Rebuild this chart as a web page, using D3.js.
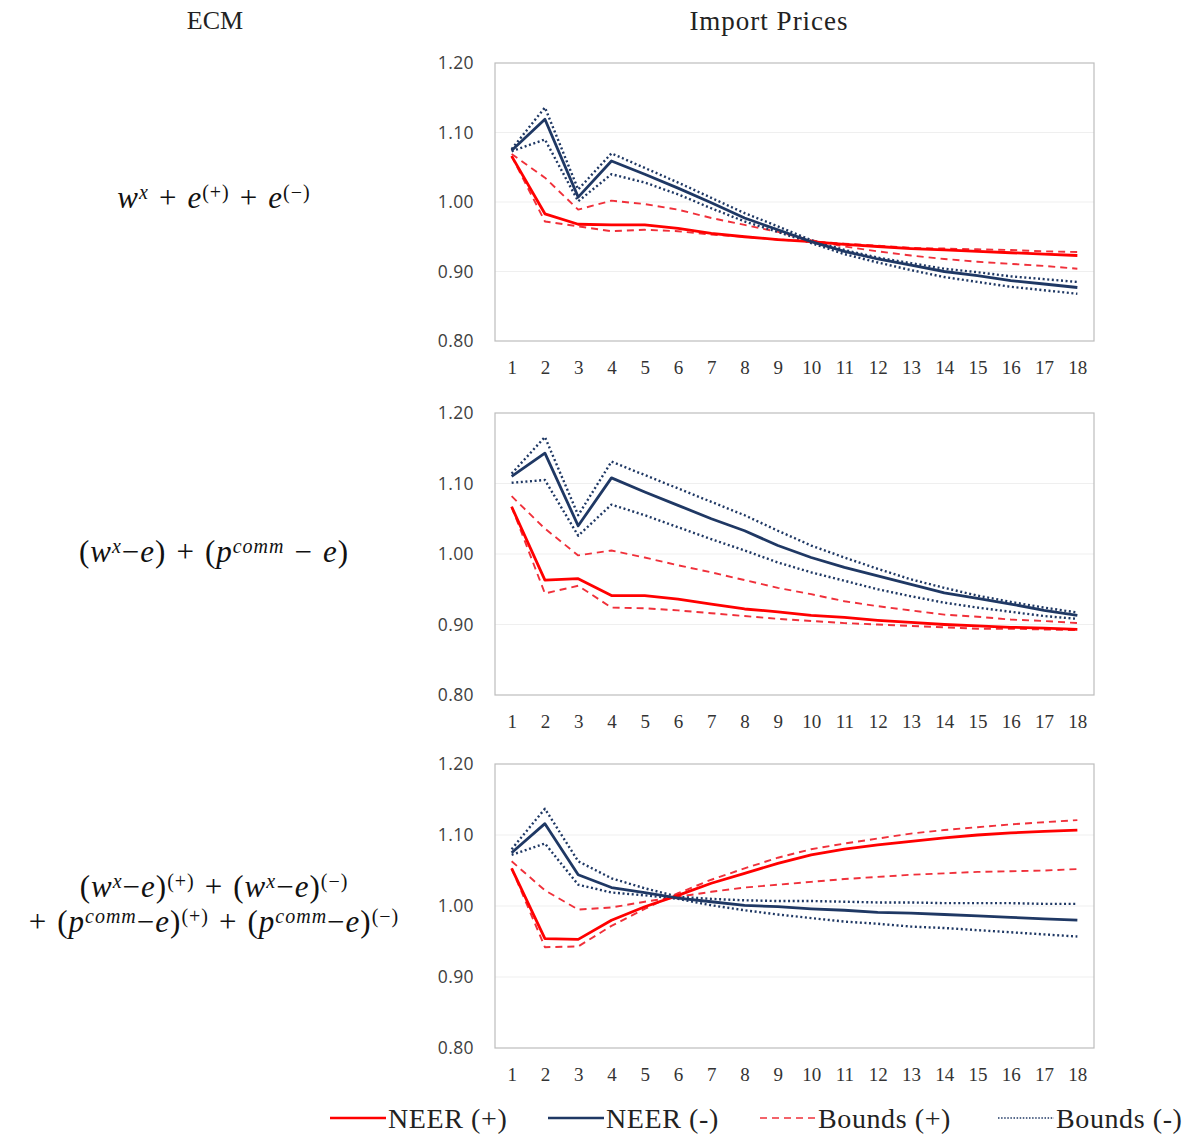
<!DOCTYPE html>
<html>
<head>
<meta charset="utf-8">
<script src="https://cdn.jsdelivr.net/npm/d3@7"></script>
<style>
  html, body { margin: 0; padding: 0; background: #fff; }
  svg { display: block; }
</style>
</head>
<body>
<svg id="chart" width="1196" height="1137"></svg>
<script>
// Horizons (periods after the shock)
const horizons = d3.range(1, 19);
const yTicks = [0.80, 0.90, 1.00, 1.10, 1.20];

// Panel 1: w^x + e(+) + e(-)
const p1NeerPos   = [1.066,0.983,0.968,0.967,0.967,0.962,0.955,0.950,0.946,0.943,0.939,0.936,0.933,0.931,0.929,0.927,0.925,0.923];
const p1BoundPosA = [1.069,1.035,0.989,1.002,0.997,0.989,0.977,0.967,0.957,0.945,0.936,0.929,0.923,0.918,0.914,0.911,0.908,0.904];
const p1BoundPosB = [1.066,0.972,0.965,0.958,0.960,0.958,0.953,0.950,0.946,0.943,0.940,0.937,0.934,0.933,0.932,0.931,0.929,0.928];
const p1NeerNeg   = [1.074,1.119,1.007,1.059,1.040,1.020,0.999,0.977,0.960,0.943,0.929,0.918,0.909,0.900,0.894,0.887,0.882,0.877];
const p1BoundNegA = [1.076,1.136,1.018,1.070,1.049,1.028,1.006,0.984,0.965,0.945,0.931,0.920,0.912,0.904,0.899,0.893,0.889,0.885];
const p1BoundNegB = [1.073,1.090,1.001,1.040,1.028,1.011,0.991,0.972,0.957,0.941,0.925,0.913,0.902,0.892,0.885,0.878,0.873,0.868];

// Panel 2: (w^x - e) + (p^comm - e)
const p2NeerPos   = [1.067,0.963,0.965,0.941,0.941,0.936,0.929,0.922,0.918,0.913,0.910,0.906,0.903,0.900,0.898,0.896,0.895,0.893];
const p2BoundPosA = [1.082,1.036,0.998,1.005,0.995,0.984,0.974,0.963,0.952,0.943,0.933,0.926,0.920,0.914,0.911,0.907,0.905,0.902];
const p2BoundPosB = [1.067,0.944,0.955,0.924,0.923,0.920,0.916,0.912,0.908,0.905,0.902,0.900,0.898,0.896,0.894,0.894,0.893,0.892];
const p2NeerNeg   = [1.110,1.143,1.040,1.108,1.088,1.069,1.050,1.033,1.012,0.995,0.981,0.969,0.957,0.945,0.937,0.929,0.920,0.913];
const p2BoundNegA = [1.114,1.166,1.055,1.131,1.112,1.093,1.074,1.055,1.033,1.012,0.995,0.979,0.964,0.952,0.941,0.932,0.924,0.917];
const p2BoundNegB = [1.101,1.105,1.026,1.070,1.055,1.038,1.021,1.005,0.988,0.974,0.962,0.950,0.940,0.931,0.924,0.918,0.912,0.908];

// Panel 3: asymmetric cost-push terms
const p3NeerPos   = [1.053,0.954,0.953,0.980,0.999,1.015,1.032,1.046,1.060,1.072,1.080,1.086,1.091,1.096,1.100,1.103,1.105,1.107];
const p3BoundPosA = [1.053,0.942,0.943,0.972,0.996,1.018,1.037,1.053,1.068,1.080,1.088,1.095,1.102,1.107,1.111,1.115,1.118,1.121];
const p3BoundPosB = [1.063,1.022,0.995,0.998,1.006,1.013,1.020,1.026,1.030,1.034,1.038,1.041,1.044,1.046,1.048,1.049,1.050,1.052];
const p3NeerNeg   = [1.075,1.116,1.044,1.026,1.019,1.011,1.006,1.001,0.999,0.996,0.994,0.991,0.990,0.988,0.986,0.984,0.982,0.980];
const p3BoundNegA = [1.080,1.137,1.063,1.039,1.025,1.013,1.010,1.008,1.007,1.007,1.006,1.005,1.005,1.004,1.004,1.004,1.003,1.003];
const p3BoundNegB = [1.072,1.088,1.030,1.019,1.015,1.010,1.001,0.994,0.988,0.983,0.978,0.975,0.971,0.969,0.966,0.963,0.960,0.957];

// Row labels (specification of each ECM), as runs of text:
// i = italic, s = superscript, op = binary operator with extra spacing
const rowLabels = [
  [[
    {t:"w", i:1},{t:"x", i:1, s:1},{t:"+", op:1},{t:"e", i:1},{t:"(+)", s:1},{t:"+", op:1},{t:"e", i:1},{t:"(\u2212)", s:1}
  ]],
  [[
    {t:"("},{t:"w", i:1},{t:"x", i:1, s:1},{t:"\u2212"},{t:"e", i:1},{t:")"},{t:"+", op:1},{t:"("},{t:"p", i:1},{t:"comm", i:1, s:1},{t:"\u2212", op:1},{t:"e", i:1},{t:")"}
  ]],
  [[
    {t:"("},{t:"w", i:1},{t:"x", i:1, s:1},{t:"\u2212"},{t:"e", i:1},{t:")"},{t:"(+)", s:1},{t:"+", op:1},{t:"("},{t:"w", i:1},{t:"x", i:1, s:1},{t:"\u2212"},{t:"e", i:1},{t:")"},{t:"(\u2212)", s:1}
  ],[
    {t:"+", op:1},{t:"("},{t:"p", i:1},{t:"comm", i:1, s:1},{t:"\u2212"},{t:"e", i:1},{t:")"},{t:"(+)", s:1},{t:"+", op:1},{t:"("},{t:"p", i:1},{t:"comm", i:1, s:1},{t:"\u2212"},{t:"e", i:1},{t:")"},{t:"(\u2212)", s:1}
  ]]
];

const legendItems = [
  {key:"neerPos",  label:"NEER (+)"},
  {key:"neerNeg",  label:"NEER (-)"},
  {key:"boundPos", label:"Bounds (+)"},
  {key:"boundNeg", label:"Bounds (-)"}
];

const RED = "#ff0000", NAVY = "#1f3864";
const styles = {
  neerPos:  {stroke: RED,  width: 2.8, dash: null},
  neerNeg:  {stroke: NAVY, width: 2.8, dash: null},
  boundPos: {stroke: "#f0303a", width: 1.9, dash: "7,5"},
  boundNeg: {stroke: NAVY, width: 2.4, dash: "2,2.6"}
};

const panels = [
  {top: 63,  bottom: 341,  labelY: 200,   series: {neerPos:[p1NeerPos], neerNeg:[p1NeerNeg], boundPos:[p1BoundPosA,p1BoundPosB], boundNeg:[p1BoundNegA,p1BoundNegB]}},
  {top: 413, bottom: 695,  labelY: 554,   series: {neerPos:[p2NeerPos], neerNeg:[p2NeerNeg], boundPos:[p2BoundPosA,p2BoundPosB], boundNeg:[p2BoundNegA,p2BoundNegB]}},
  {top: 764, bottom: 1048, labelY: 906.5, series: {neerPos:[p3NeerPos], neerNeg:[p3NeerNeg], boundPos:[p3BoundPosA,p3BoundPosB], boundNeg:[p3BoundNegA,p3BoundNegB]}}
];

const svg = d3.select("#chart");
const left = 495, right = 1094;
const SERIF = "Liberation Serif, DejaVu Serif, serif";

const x = d3.scalePoint().domain(horizons).range([left, right]).padding(0.5);

// Column headers
svg.append("text").attr("x", 215).attr("y", 29).attr("text-anchor", "middle")
  .attr("font-family", SERIF).attr("font-size", 26)
  .attr("fill", "#222").text("ECM");
svg.append("text").attr("x", 769).attr("y", 30).attr("text-anchor", "middle")
  .attr("font-family", SERIF).attr("font-size", 27).attr("letter-spacing", 1)
  .attr("fill", "#222").text("Import Prices");

const drawOrder = ["boundPos", "boundNeg", "neerPos", "neerNeg"];

panels.forEach((p, pi) => {
  const y = d3.scaleLinear().domain([0.80, 1.20]).range([p.bottom, p.top]);
  const g = svg.append("g");

  // gridlines
  g.selectAll("line.grid").data(yTicks.slice(1, -1)).join("line")
    .attr("x1", left).attr("x2", right)
    .attr("y1", d => y(d)).attr("y2", d => y(d))
    .attr("stroke", "#efefef").attr("stroke-width", 1);

  // frame
  g.append("rect").attr("x", left).attr("y", p.top)
    .attr("width", right - left).attr("height", p.bottom - p.top)
    .attr("fill", "none").attr("stroke", "#bdbdbd").attr("stroke-width", 1.2);

  // y axis
  const ya = g.append("g").attr("transform", `translate(${left - 21},0)`)
    .call(d3.axisLeft(y).tickValues(yTicks).tickFormat(d3.format(".2f")).tickSize(0).tickPadding(0));
  ya.select(".domain").remove();
  ya.selectAll("text").attr("font-family", "Open Sans, Liberation Sans, sans-serif")
    .attr("font-size", 17.5).attr("letter-spacing", 0.4).attr("fill", "#404040").attr("dy", "0.34em");

  // x axis
  const xa = g.append("g").attr("transform", `translate(0,${p.bottom + 26})`)
    .call(d3.axisBottom(x).tickSize(0).tickPadding(0));
  xa.select(".domain").remove();
  xa.selectAll("text").attr("font-family", SERIF)
    .attr("font-size", 19).attr("fill", "#333").attr("dy", "0.35em");

  // series lines
  const line = d3.line().x((d, i) => x(horizons[i])).y(d => y(d));
  drawOrder.forEach(k => {
    const st = styles[k];
    p.series[k].forEach(vals => {
      g.append("path").datum(vals).attr("d", line)
        .attr("fill", "none").attr("stroke", st.stroke)
        .attr("stroke-width", st.width)
        .attr("stroke-dasharray", st.dash)
        .attr("stroke-linejoin", "round");
    });
  });

  // row label
  const lines = rowLabels[pi];
  const lineGap = 35;
  const y0 = p.labelY - (lines.length - 1) * lineGap / 2 + 8;
  lines.forEach((runs, li) => {
    const txt = svg.append("text")
      .attr("x", 214).attr("y", y0 + li * lineGap)
      .attr("text-anchor", "middle")
      .attr("font-family", SERIF).attr("letter-spacing", 1)
      .attr("font-size", 31).attr("fill", "#111");
    let raised = false;
    let pendingPad = 0;
    runs.forEach((r, ri) => {
      const ts = txt.append("tspan").text(r.t)
        .attr("font-style", r.i ? "italic" : "normal");
      let dy = 0;
      if (r.s && !raised) { dy = -9.5; raised = true; }
      else if (!r.s && raised) { dy = 9.5; raised = false; }
      if (dy) ts.attr("dy", dy);
      if (r.s) ts.attr("font-size", 20);
      let dx = pendingPad;
      pendingPad = 0;
      if (r.op) { dx += ri === 0 ? 0 : 10; pendingPad = 10; }
      if (dx) ts.attr("dx", dx);
    });
  });
});

// legend
const legendX = [330, 548, 760, 998];
const legend = svg.append("g");
legendItems.forEach((it, i) => {
  const st = styles[it.key];
  const lx = legendX[i];
  legend.append("line").attr("x1", lx).attr("x2", lx + 56)
    .attr("y1", 1118).attr("y2", 1118)
    .attr("stroke", st.stroke).attr("stroke-width", it.key.startsWith("neer") ? 2.6 : 1.6)
    .attr("stroke-dasharray", it.key === "boundNeg" ? "1.5,1.6" : st.dash);
  legend.append("text").attr("x", lx + 58).attr("y", 1128)
    .attr("font-family", SERIF).attr("letter-spacing", 0.6)
    .attr("font-size", 28).attr("fill", "#222").text(it.label);
});
</script>
</body>
</html>
